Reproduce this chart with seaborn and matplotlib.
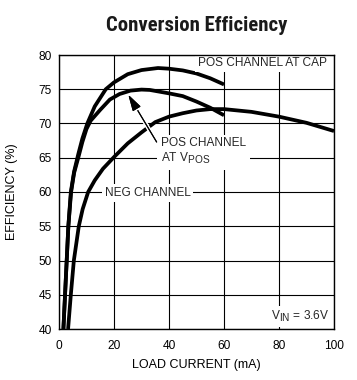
import matplotlib
matplotlib.use("Agg")
import matplotlib.pyplot as plt
import matplotlib.patheffects as pe
import matplotlib._mathtext as _mt
from matplotlib import font_manager
import pandas as pd
import seaborn as sns

# ---- data ----
cap_current = [1.6, 2.2, 2.8, 3.4, 4.3, 5.5, 7.0, 8.5, 10.3, 13, 17, 20, 25, 30, 36, 40, 45, 50, 55, 60]
cap_eff = [40, 45, 50, 55, 60, 63, 65.5, 67.8, 70.0, 72.5, 75.0, 76.0, 77.2, 77.8, 78.1, 78.0, 77.75, 77.3, 76.6, 75.7]

vpos_current = [1.6, 2.2, 2.8, 3.4, 4.4, 5.5, 7.0, 8.5, 10, 11.5, 15, 18.5, 22, 26, 30, 33, 40, 45, 50, 55, 60]
vpos_eff = [40, 45, 50, 55, 60, 62.8, 65.0, 67.3, 69.2, 70.4, 72.0, 73.5, 74.3, 74.8, 74.95, 74.9, 74.4, 74.0, 73.2, 72.3, 71.2]

neg_current = [3.3, 4.3, 5.4, 7.2, 8.6, 10.6, 13, 16, 20, 25, 30, 35, 40, 45, 50, 55, 60, 70, 80, 90, 100]
neg_eff = [40, 45, 50, 55, 57.5, 60, 61.7, 63.4, 65.1, 67.1, 68.7, 70.2, 71.0, 71.5, 71.9, 72.1, 72.1, 71.7, 71.0, 70.1, 68.9]

series_names = ["POS CHANNEL AT CAP", "POS CHANNEL AT VPOS", "NEG CHANNEL"]
x_ticks = [0, 20, 40, 60, 80, 100]
y_ticks = [40, 45, 50, 55, 60, 65, 70, 75, 80]

title_text = "Conversion Efficiency"
x_label = "LOAD CURRENT (mA)"
y_label = "EFFICIENCY (%)"
label_cap = "POS CHANNEL AT CAP"
label_vpos = "POS CHANNEL\nAT V$_\\mathregular{POS}$"
label_neg = "NEG CHANNEL"
label_vin = "V$_\\mathregular{IN}$ = 3.6V"

# ---- style ----
_mt.SHRINK_FACTOR = 0.85
sns.set_theme(style="white")
names = {f.name for f in font_manager.fontManager.ttflist}
base = "Liberation Sans" if "Liberation Sans" in names else "DejaVu Sans"
plt.rcParams["font.family"] = [base, "DejaVu Sans"]
title_family = base
for cand in ["Liberation Sans Narrow", "Roboto Condensed", "Noto Sans Condensed",
             "Open Sans Condensed", "DejaVu Sans Condensed"]:
    if cand in names:
        title_family = cand
        break

df = pd.concat([
    pd.DataFrame({"current": cap_current, "eff": cap_eff, "series": series_names[0]}),
    pd.DataFrame({"current": vpos_current, "eff": vpos_eff, "series": series_names[1]}),
    pd.DataFrame({"current": neg_current, "eff": neg_eff, "series": series_names[2]}),
], ignore_index=True)

fig = plt.figure(figsize=(3.57, 3.80), dpi=100)
ax = fig.add_axes([59 / 357, 1 - 329 / 380, 275 / 357, 274 / 380])

sns.lineplot(data=df, x="current", y="eff", hue="series",
             palette=["black"] * 3, estimator=None, sort=False,
             legend=False, linewidth=2.7, ax=ax)
for ln in ax.lines:
    ln.set_solid_capstyle("butt")
    ln.set_zorder(3.5)

ax.set_xlim(0, 100)
ax.set_ylim(40, 80)
ax.set_xticks(x_ticks)
ax.set_yticks(y_ticks)
ax.set_axisbelow(True)
ax.grid(True, color="black", linewidth=0.8)
for s in ax.spines.values():
    s.set_visible(True)
    s.set_color("black")
    s.set_linewidth(1.0)
    s.set_zorder(6)
ax.tick_params(axis="both", length=0, labelsize=8.6, colors="black")
ax.tick_params(axis="x", pad=8)
ax.tick_params(axis="y", pad=5)

ax.set_xlabel(x_label, fontsize=9, color="black")
ax.set_ylabel(y_label, fontsize=9, color="black")
ax.xaxis.set_label_coords(0.5, -0.11)
ax.yaxis.set_label_coords(-0.15, 0.5)

title = fig.text(197 / 357, 1 - 31 / 380, title_text, ha="center", va="baseline",
                 fontsize=13, fontweight="bold", family=title_family, color="#1a1a1a")
# fit title width to the reference (about 181 px)
fig.canvas.draw()
w = title.get_window_extent(fig.canvas.get_renderer()).width
title.set_fontsize(13 * 181 / w)

box = dict(boxstyle="square,pad=0.25", fc="white", ec="none")
ax.text(74, 78.76, label_cap, ha="center", va="center", fontsize=8.6, bbox=box, zorder=4)
ax.text(37.1, 68.0, label_vpos, ha="left", va="top", fontsize=8.6,
        linespacing=1.15, bbox=dict(boxstyle="square,pad=0.3", fc="white", ec="none"), zorder=4)
ax.text(32.2, 59.8, label_neg, ha="center", va="center", fontsize=8.6, bbox=box, zorder=4)
ax.text(98.5, 41.3, label_vin, ha="right", va="baseline", fontsize=8.6, bbox=box, zorder=4)

arr = ax.annotate("", xy=(25.2, 74.2), xytext=(35.5, 67.3),
                  arrowprops=dict(arrowstyle="-|>,head_length=1.0,head_width=0.28",
                                  color="black", lw=0.8, mutation_scale=10,
                                  shrinkA=0, shrinkB=0), zorder=5)
arr.arrow_patch.set_path_effects([pe.withStroke(linewidth=3, foreground="white"), pe.Normal()])

fig.savefig("out.png", dpi=100)
